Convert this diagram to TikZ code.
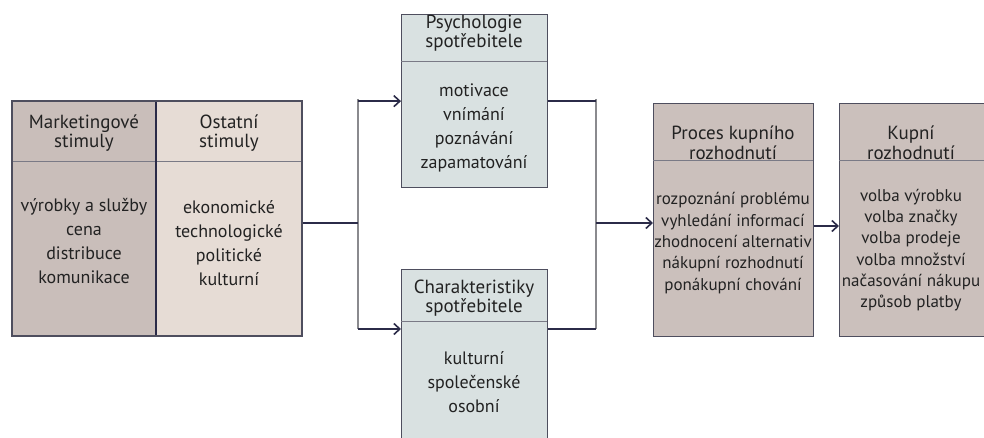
\documentclass[tikz,border=0pt]{standalone}
\usepackage{fontspec}
\setmainfont{PT Sans}
\usetikzlibrary{arrows.meta}
\definecolor{mkfill}{HTML}{C9BEBA}
\definecolor{osfill}{HTML}{E6DCD5}
\definecolor{psfill}{HTML}{D9E1E1}
\definecolor{prfill}{HTML}{CBC0BC}
\definecolor{bord}{HTML}{4E4E5E}
\definecolor{divc}{HTML}{7A7A86}
\definecolor{conn}{HTML}{2B2B48}
\definecolor{vconn}{HTML}{8A8A8E}
\definecolor{txt}{HTML}{222222}
\tikzset{
  boxshape/.style={draw=bord, line width=1.3pt, anchor=north west, inner sep=0pt},
  divline/.style={draw=divc, line width=1pt},
  ttl/.style={align=center, inner sep=0pt, text=txt, font=\fontsize{19}{19.5}\selectfont},
  bdy/.style={align=center, inner sep=0pt, text=txt, font=\fontsize{18}{24}\selectfont},
  bdys/.style={align=center, inner sep=0pt, text=txt, font=\fontsize{17}{21.3}\selectfont},
  hconn/.style={draw=conn, line width=1.6pt},
  vline/.style={draw=vconn, line width=2.6pt},
  arr/.style={-{Straight Barb[length=6pt,width=11pt,line width=1.6pt]}},
}
\begin{document}
\begin{tikzpicture}[x=1pt,y=-1pt]
\useasboundingbox (0,0) rectangle (984,438);
\clip (0,0) rectangle (984,438);
\fill[white] (0,0) rectangle (984,438);
% left block
\node[boxshape, fill=mkfill, minimum width=144, minimum height=235] (mk) at (12,101) {};
\node[boxshape, fill=osfill, minimum width=146, minimum height=235] (os) at (156,101) {};
\draw[divline] (12,162) -- (302,162);
\draw[draw=conn, line width=1.6pt] (156,101) -- (156,336);
\draw[boxshape, fill=none] (12,101) rectangle (302,336);
\node[ttl] (mkt) at (84,133) {Marketingové\\stimuly};
\node[ttl] (ost) at (229,133) {Ostatní\\stimuly};
\node[bdy] (mkb) at (84,241) {výrobky a služby\\cena\\distribuce\\komunikace};
\node[bdy] (osb) at (229,243) {ekonomické\\technologické\\politické\\kulturní};
% psychologie
\node[boxshape, fill=psfill, minimum width=146, minimum height=173] (ps) at (401,14) {};
\draw[divline] (401,62) -- (547,62);
\node[ttl] (pst) at (474,33) {Psychologie\\spotřebitele};
\node[bdy] (psb) at (474,128) {motivace\\vnímání\\poznávání\\zapamatování};
% charakteristiky
\node[boxshape, fill=psfill, minimum width=146, minimum height=190] (ch) at (401,269) {};
\draw[divline] (401,321) -- (547,321);
\node[ttl] (cht) at (474,298) {Charakteristiky\\spotřebitele};
\node[bdy] (chb) at (474,382) {kulturní\\společenské\\osobní};
% proces
\node[boxshape, fill=prfill, minimum width=160, minimum height=233] (pr) at (653,103) {};
\draw[divline] (653,161) -- (813,161);
\node[ttl] (prt) at (733,143) {Proces kupního\\rozhodnutí};
\node[bdys] (prb) at (733,243) {rozpoznání problému\\vyhledání informací\\zhodnocení alternativ\\nákupní rozhodnutí\\ponákupní chování};
% kupni
\node[boxshape, fill=prfill, minimum width=160, minimum height=233] (ku) at (839,103) {};
\draw[divline] (839,161) -- (999,161);
\node[ttl] (kut) at (911,143) {Kupní\\rozhodnutí};
\node[bdys] (kub) at (911,250) {volba výrobku\\volba značky\\volba prodeje\\volba množství\\načasování nákupu\\způsob platby};
% connectors
\coordinate (jl) at (358,223);
\coordinate (jr) at (596,223);
\draw[vline] (358,99) -- (358,329);
\draw[vline] (596,99) -- (596,329);
\draw[hconn] (os.east |- jl) -- (jl);
\draw[hconn, arr] (jl |- ps.west) -- (ps.west);
\draw[hconn, arr] (358,329) -- (ch.west |- 0,329);
\draw[hconn] (ps.east) -- (jr |- ps.east);
\draw[hconn] (ch.east |- 0,329) -- (596,329);
\draw[hconn, arr] (jr) -- (pr.west |- jr);
\draw[hconn, arr] (pr.east |- 0,226) -- (ku.west |- 0,226);
\end{tikzpicture}
\end{document}
